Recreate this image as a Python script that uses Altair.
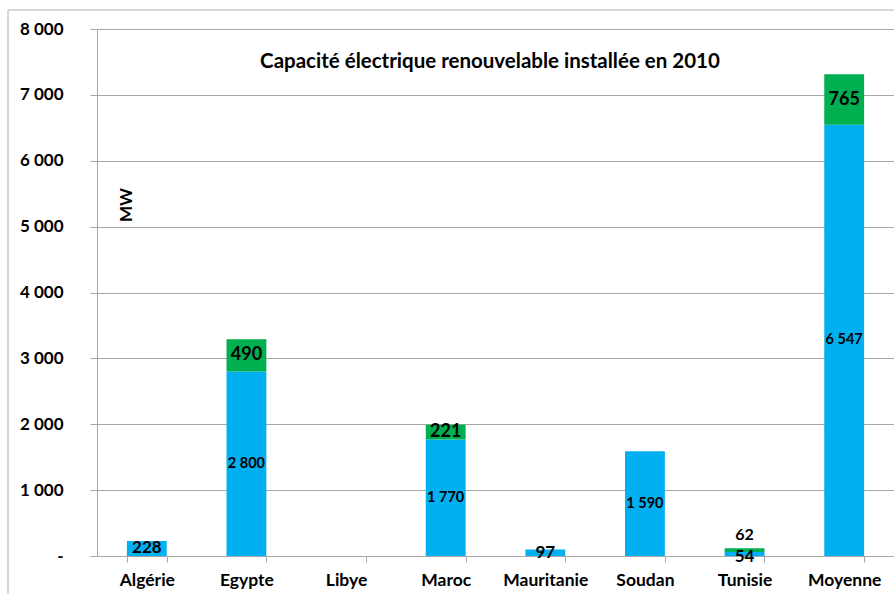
import altair as alt
import pandas as pd

# Installed renewable capacity (MW), hydro stacked under wind
pays = ["Algérie", "Egypte", "Libye", "Maroc", "Mauritanie", "Soudan", "Tunisie", "Moyenne"]
hydraulique = [228, 2800, 0, 1770, 97, 1590, 62, 6547]
eolien = [0, 490, 0, 221, 0, 0, 54, 765]
graduations = [0, 1000, 2000, 3000, 4000, 5000, 6000, 7000, 8000]
titre = "Capacité électrique renouvelable installée en 2010"
unite = "MW"

rows = []
for p, h, e in zip(pays, hydraulique, eolien):
    rows.append({"pays": p, "filiere": "Hydraulique", "rang": 0, "mw": h})
    rows.append({"pays": p, "filiere": "Éolien", "rang": 1, "mw": e})
df = pd.DataFrame(rows)

FONT = "Lato"
GRIS = "#a6a6a6"
W, H = 797, 527

base = alt.Chart(df).transform_stack(
    stack="mw", groupby=["pays"], as_=["bas", "haut"], sort=[alt.SortField("rang")]
).transform_calculate(
    milieu="(datum.bas + datum.haut) / 2",
    etiquette="replace(format(datum.mw, ',d'), ',', ' ')",
)

x_scale = alt.Scale(domain=pays, paddingInner=0.6, paddingOuter=0.3)
x_enc = alt.X(
    "pays:N",
    scale=x_scale,
    axis=alt.Axis(
        title=None, tickBand="extent", grid=False, domainColor=GRIS, tickColor=GRIS,
        tickSize=6, labelPadding=9, labelFont=FONT, labelFontSize=17.5,
        labelFontWeight="bold", labelColor="black", labelAngle=0,
    ),
)
y_scale = alt.Scale(domain=[0, 8000], nice=False)

bars = base.mark_bar().encode(
    x=x_enc,
    y=alt.Y(
        "bas:Q", scale=y_scale,
        axis=alt.Axis(
            title=None, values=graduations, grid=True, gridColor=GRIS, domainColor=GRIS,
            tickColor=GRIS, tickSize=7, labelPadding=27, labelFont=FONT, labelFontSize=17,
            labelFontWeight="bold", labelColor="black",
            labelExpr="datum.value == 0 ? '-\u00a0\u00a0\u00a0\u00a0\u00a0' : replace(format(datum.value, ',d'), ',', ' ')",
        ),
    ),
    y2="haut:Q",
    color=alt.Color(
        "filiere:N",
        scale=alt.Scale(domain=["Hydraulique", "Éolien"], range=["#00B0F0", "#00B050"]),
        legend=None,
    ),
).transform_filter("datum.mw > 0")

def labels(filtre, size, dy=0):
    return base.transform_filter(filtre).mark_text(
        font=FONT, fontWeight="bold", fontSize=size, color="black", dy=dy
    ).encode(x=alt.X("pays:N", scale=x_scale), y=alt.Y("milieu:Q", scale=y_scale), text="etiquette:N")

hydro_large = labels("datum.filiere == 'Hydraulique' && datum.mw >= 1000", 14.5)
hydro_small = labels("datum.filiere == 'Hydraulique' && datum.mw > 0 && datum.mw < 1000 && datum.pays != 'Tunisie'", 17)
wind_lbl = labels("datum.filiere == 'Éolien' && datum.mw > 0 && datum.pays != 'Tunisie'", 18)
tun_hydro = labels("datum.filiere == 'Hydraulique' && datum.pays == 'Tunisie'", 16, dy=-19)
tun_wind = labels("datum.filiere == 'Éolien' && datum.pays == 'Tunisie'", 17, dy=7)

one = alt.Chart(pd.DataFrame({"k": [0]}))
title_mark = one.mark_text(
    font=FONT, fontWeight="bold", fontSize=20.5, color="black"
).encode(x=alt.value(393), y=alt.value(33), text=alt.value(titre))
unit_mark = one.mark_text(
    font=FONT, fontWeight="bold", fontSize=17, color="black", angle=270
).encode(x=alt.value(30), y=alt.value(176), text=alt.value(unite))
frame = one.mark_rect(fill=None, stroke="#b0b0b0", strokeWidth=1).encode(
    x=alt.value(-89), x2=alt.value(W + 20), y=alt.value(-19), y2=alt.value(H + 80)
)

chart = alt.layer(
    frame, bars, hydro_large, hydro_small, wind_lbl, tun_hydro, tun_wind, title_mark, unit_mark
).properties(
    width=W, height=H,
    autosize=alt.AutoSizeParams(type="none"),
    padding={"left": 97, "top": 29, "right": 0, "bottom": 38},
    background="white",
).configure_view(stroke=None)

chart.save("out.html", embed_options={"renderer": "svg", "actions": False})
